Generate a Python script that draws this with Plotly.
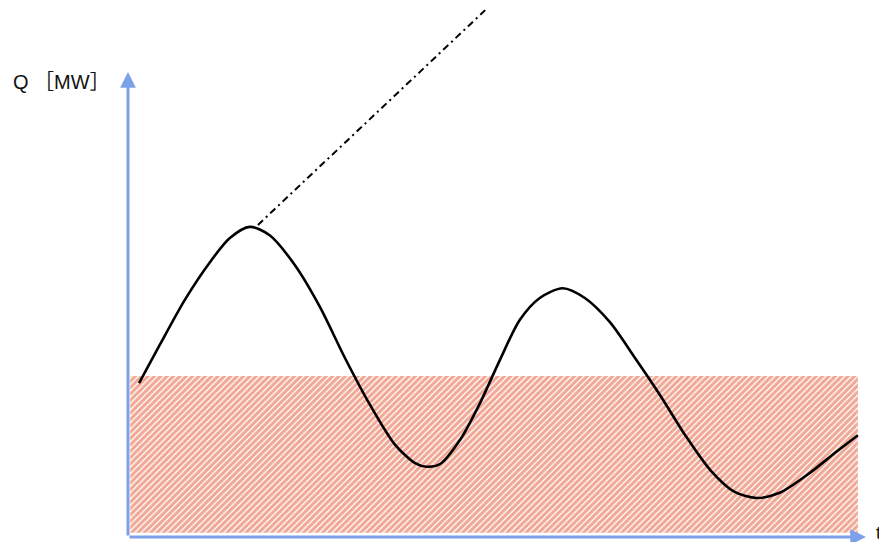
import plotly.graph_objects as go

# Curve Q(t) (arbitrary units)
curve_t = [0.15, 0.43, 0.77, 1.11, 1.38, 1.65, 1.92, 2.26, 2.60, 2.94, 3.28, 3.62,
           3.89, 4.05, 4.23, 4.50, 4.77, 5.04, 5.31, 5.58, 5.89, 6.19, 6.53, 6.87,
           7.21, 7.55, 7.89, 8.22, 8.52, 8.83, 9.24, 9.58, 9.89]
curve_q = [3.31, 4.13, 5.10, 5.91, 6.43, 6.67, 6.49, 5.85, 4.95, 3.85, 2.84, 1.98,
           1.59, 1.51, 1.57, 2.09, 2.88, 3.81, 4.67, 5.14, 5.35, 5.14, 4.62, 3.85,
           3.05, 2.19, 1.44, 0.97, 0.84, 0.95, 1.38, 1.81, 2.19]

# Dash-dot extension from the first peak
trend_t = [1.76, 4.84]
trend_q = [6.71, 11.33]

# Hatched base band
band_t = [0.03, 9.89, 9.89, 0.03, 0.03]
band_q = [0.09, 0.09, 3.46, 3.46, 0.09]

# Axes extents
axis_t_end = 10.0
axis_q_end = 10.0

axis_color = "#7EA0E8"
font_family = "Liberation Sans, Arial, Noto Sans CJK SC"

fig = go.Figure()

fig.add_trace(go.Scatter(
    x=band_t, y=band_q, mode="lines", fill="toself",
    line=dict(width=0, color="rgba(0,0,0,0)"),
    fillcolor="rgba(0,0,0,0)",
    fillpattern=dict(shape="/", fgcolor="#E2502A", bgcolor="white",
                     size=4.5, solidity=0.7),
    hoverinfo="skip", showlegend=False,
))

fig.add_trace(go.Scatter(
    x=trend_t, y=trend_q, mode="lines",
    line=dict(color="black", width=2, dash="7px,4px,2px,4px"),
    showlegend=False, cliponaxis=False,
))

fig.add_trace(go.Scatter(
    x=curve_t, y=curve_q, mode="lines",
    line=dict(color="black", width=2.6, shape="spline", smoothing=0.8),
    showlegend=False,
))

# Axis arrows
fig.add_annotation(x=axis_t_end, y=0, ax=0, ay=0, xref="x", yref="y",
                   axref="x", ayref="y", text="", showarrow=True,
                   arrowhead=2, arrowsize=1.05, arrowwidth=3,
                   arrowcolor=axis_color, standoff=0, startstandoff=0)
fig.add_annotation(x=0, y=axis_q_end, ax=0, ay=0, xref="x", yref="y",
                   axref="x", ayref="y", text="", showarrow=True,
                   arrowhead=2, arrowsize=1.05, arrowwidth=3,
                   arrowcolor=axis_color, standoff=0, startstandoff=0)

# Axis labels
fig.add_annotation(x=-0.1585, y=0.860, xref="paper", yref="paper", text="Q ［MW］",
                   showarrow=False, xanchor="left", yanchor="middle",
                   font=dict(family=font_family, size=20, color="#111111"))
fig.add_annotation(x=1.0115, y=0.03, xref="paper", yref="paper", text="t",
                   showarrow=False, xanchor="left", yanchor="top",
                   font=dict(family=font_family, size=18, color="#111111"))

fig.update_layout(
    width=879, height=534, autosize=False,
    margin=dict(l=120, r=21, t=0, b=5, pad=0),
    paper_bgcolor="white", plot_bgcolor="white",
    xaxis=dict(range=[0, 10], visible=False, fixedrange=True),
    yaxis=dict(range=[0, 11.376], visible=False, fixedrange=True),
    showlegend=False,
)

fig.write_html("out.html")
